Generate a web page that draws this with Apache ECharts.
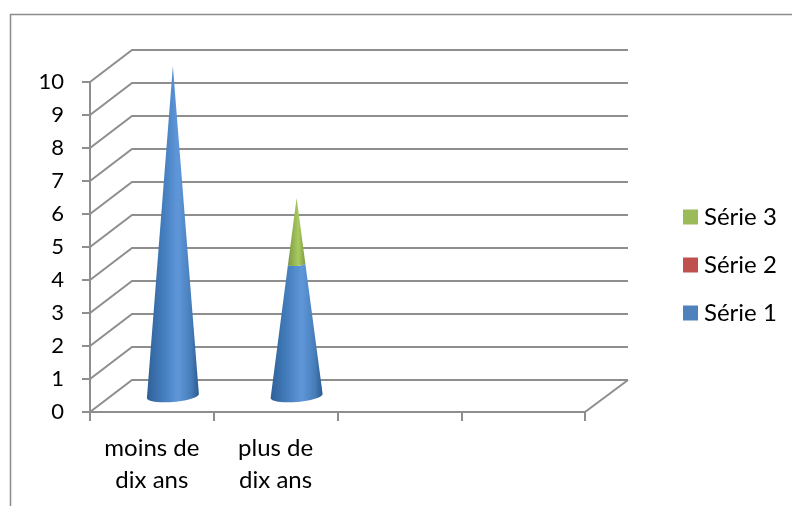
<!DOCTYPE html>
<html>
<head>
<meta charset="utf-8">
<style>html,body{margin:0;padding:0;background:#fff}#c{width:792px;height:506px}</style>
<script src="https://cdn.jsdelivr.net/npm/echarts@6/dist/echarts.min.js"></script>
</head>
<body>
<div id="c"></div>
<script>
var categories = ['moins de\ndix ans', 'plus de\ndix ans', '', ''];
var serie1 = [10, 4, 0, 0];
var serie2 = [0, 0, 0, 0];
var serie3 = [0, 2, 0, 0];
var seriesNames = ['Série 1', 'Série 2', 'Série 3'];
var yTicks = [0, 1, 2, 3, 4, 5, 6, 7, 8, 9, 10];

var stacks = [serie1, serie2, serie3];
var DX = 42, DY = 32, RX = 26, RY = 6, TILT = 2;
var GREY = '#8e8e8e';
var FONT = 'Lato, "Open Sans", sans-serif';

function totalAt(i) { return stacks.reduce(function (s, a) { return s + a[i]; }, 0); }
function baseAt(k, i) { var s = 0; for (var j = 0; j < k; j++) s += stacks[j][i]; return s; }

function wallItem(params, api) {
  var v = api.value(0);
  var cs = params.coordSys;
  var y = api.coord([0, v])[1];
  var x0 = cs.x, x1 = cs.x + cs.width;
  var line = { stroke: GREY, lineWidth: 2, fill: null };
  var children = [
    { type: 'polyline', shape: { points: [[x0, y], [x0 + DX, y - DY], [x1 + DX + 1, y - DY]] }, style: line }
  ];
  if (v === yTicks[0]) {
    children.push({ type: 'line', shape: { x1: x1, y1: y, x2: x1 + DX + 1, y2: y - DY }, style: line });
  }
  return { type: 'group', children: children };
}

function arc(cx, cy, rx, ry, tilt, fromLeft) {
  var pts = [];
  for (var t = 0; t <= 24; t++) {
    var a = Math.PI * t / 24;
    var u = fromLeft ? -Math.cos(a) : Math.cos(a);
    var px = cx + rx * u;
    var py = cy + ry * Math.sqrt(Math.max(0, 1 - u * u)) - tilt * u;
    pts.push([px, py]);
  }
  return pts;
}

function coneItem(k, stops) {
  return function (params, api) {
    var i = api.value(0), val = api.value(1);
    if (!val) return null;
    var total = totalAt(i), b = baseAt(k, i);
    var band = api.size([1, 0])[0];
    var p0 = api.coord([i, b]), p1 = api.coord([i, b + val]);
    var cx = p0[0] + DX / 2;
    var y0 = p0[1] - DY / 2, y1 = p1[1] - DY / 2;
    var f0 = 1 - b / total, f1 = 1 - (b + val) / total;
    var rx = band * RX / 123.75;
    var pts = arc(cx, y0, rx * f0, RY * f0, TILT * f0, true)
      .concat(arc(cx, y1, rx * f1, RY * f1, TILT * f1, false));
    return {
      type: 'polygon',
      shape: { points: pts },
      style: {
        fill: { type: 'linear', x: 0, y: 0, x2: 1, y2: 0, colorStops: stops }
      }
    };
  };
}

function pairs(arr) { return arr.map(function (v, i) { return [i, v]; }); }

var blueStops = [
  { offset: 0, color: '#2f6098' }, { offset: 0.3, color: '#437cbb' },
  { offset: 0.6, color: '#5f97da' }, { offset: 0.85, color: '#477db9' }, { offset: 1, color: '#2c5a90' }
];
var redStops = [
  { offset: 0, color: '#943c39' }, { offset: 0.6, color: '#d9605c' }, { offset: 1, color: '#8f3a37' }
];
var greenStops = [
  { offset: 0, color: '#7d9a45' }, { offset: 0.6, color: '#a9cb60' }, { offset: 1, color: '#7f9c47' }
];

var chart = echarts.init(document.getElementById('c'), null, { renderer: 'canvas' });
chart.setOption({
  animation: false,
  backgroundColor: '#ffffff',
  graphic: [{
    type: 'polyline',
    silent: true,
    shape: { points: [[10.5, 506], [10.5, 14.5], [792, 14.5]] },
    style: { stroke: '#8c8c8c', lineWidth: 1.5, fill: null }
  }],
  legend: {
    data: [seriesNames[2], seriesNames[1], seriesNames[0]],
    orient: 'vertical',
    left: 678,
    top: 200,
    icon: 'rect',
    itemWidth: 15,
    itemHeight: 15,
    itemGap: 24,
    textStyle: { fontFamily: FONT, fontSize: 24, color: '#000', padding: [0, 0, 0, 1], height: 22, lineHeight: 22 }
  },
  grid: { left: 90, top: 82, width: 495, height: 330, containLabel: false },
  xAxis: {
    type: 'category',
    data: categories,
    boundaryGap: true,
    axisLine: { show: true, lineStyle: { color: GREY, width: 2 } },
    axisTick: { show: true, length: 9, alignWithLabel: false, interval: 0, lineStyle: { color: GREY, width: 2 } },
    axisLabel: { show: true, interval: 0, margin: 20, fontFamily: FONT, fontSize: 24, lineHeight: 32, color: '#000' },
    splitLine: { show: false }
  },
  yAxis: {
    type: 'value',
    min: 0,
    max: 10,
    interval: 1,
    axisLine: { show: true, lineStyle: { color: GREY, width: 2 } },
    axisTick: { show: true, length: 8, lineStyle: { color: GREY, width: 2 } },
    axisLabel: { margin: 26, fontFamily: FONT, fontSize: 22, color: '#000' },
    splitLine: { show: false }
  },
  series: [
    { type: 'custom', name: 'walls', silent: true, clip: false, z: 1,
      encode: { y: 0 }, data: yTicks.map(function (v) { return [v]; }), renderItem: wallItem },
    { type: 'custom', name: seriesNames[0], clip: false, z: 3, itemStyle: { color: '#4f81bd' },
      data: pairs(serie1), encode: { x: 0, y: 1 }, renderItem: coneItem(0, blueStops) },
    { type: 'custom', name: seriesNames[1], clip: false, z: 3, itemStyle: { color: '#c0504d' },
      data: pairs(serie2), encode: { x: 0, y: 1 }, renderItem: coneItem(1, redStops) },
    { type: 'custom', name: seriesNames[2], clip: false, z: 3, itemStyle: { color: '#9bbb59' },
      data: pairs(serie3), encode: { x: 0, y: 1 }, renderItem: coneItem(2, greenStops) }
  ]
});
</script>
</body>
</html>
